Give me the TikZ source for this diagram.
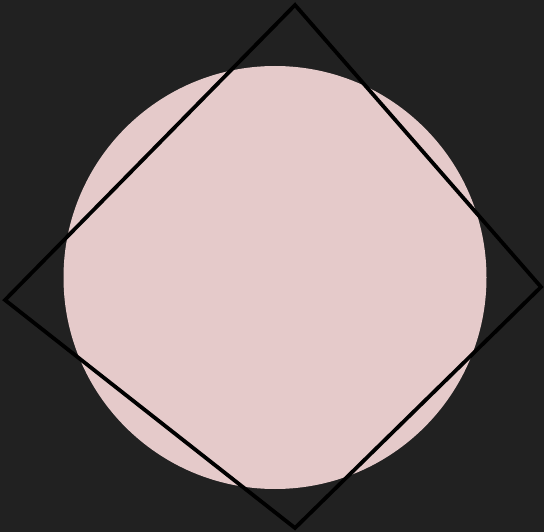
\documentclass[tikz,border=0pt]{standalone}
\usepackage{tikz}
\usepackage{xcolor}

\definecolor{bgdark}{HTML}{212121}
\definecolor{disc}{HTML}{E5CACA}

\begin{document}
\begin{tikzpicture}[x=1pt, y=-1pt]
        \fill[bgdark] (0, 0) rectangle (544, 532);
        \useasboundingbox (0, 0) rectangle (544, 532);

        \fill[disc] (275, 277.5) circle (211.5pt);

        \coordinate (top)    at (295,   5);
        \coordinate (right)  at (541, 287);
        \coordinate (bottom) at (295, 528);
        \coordinate (left)   at (  5, 300);

        \draw[black, line width=3.8pt, line join=miter] (top) -- (right) -- (bottom) -- (left) -- cycle;
    \end{tikzpicture}
\end{document}
